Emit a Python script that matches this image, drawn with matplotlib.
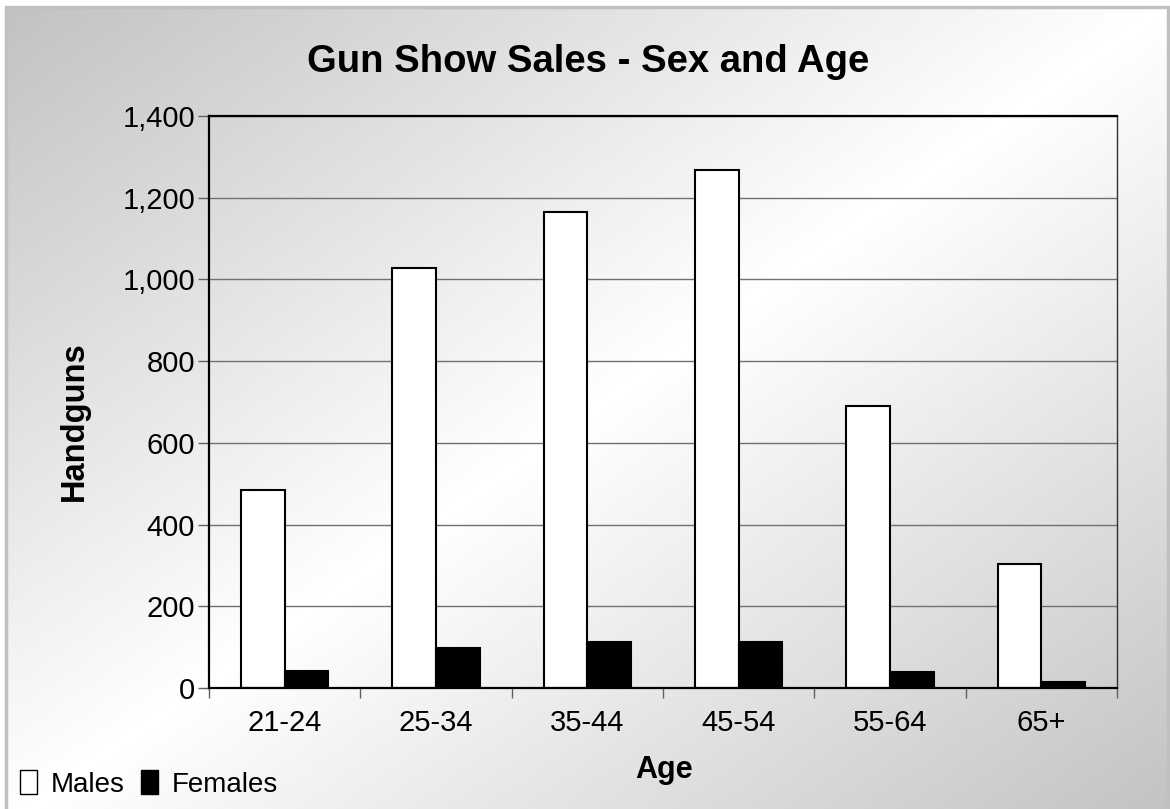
import numpy as np
import matplotlib
matplotlib.use('Agg')
import matplotlib.pyplot as plt
from matplotlib.patches import Rectangle, Patch
from matplotlib.ticker import FuncFormatter, FixedLocator, NullFormatter

# ---- data ----
categories = ['21-24', '25-34', '35-44', '45-54', '55-64', '65+']
males = [484, 1029, 1166, 1268, 690, 303]
females = [41, 99, 113, 113, 40, 15]
series_names = ['Males', 'Females']
y_ticks = [0, 200, 400, 600, 800, 1000, 1200, 1400]
title = 'Gun Show Sales - Sex and Age'
x_label = 'Age'
y_label = 'Handguns'

plt.rcParams['font.family'] = ['Liberation Sans', 'DejaVu Sans']

W, H = 1170, 809
fig = plt.figure(figsize=(W / 100, H / 100), dpi=100)
fig.patch.set_facecolor('white')

# ---- gradient background ----
bx0, bx1 = 6 / W, 1168 / W
by0, by1 = -0.02, 1 - 7 / H
bg = fig.add_axes([bx0, by0, bx1 - bx0, by1 - by0], zorder=0)
n = 400
gx, gy = np.meshgrid(np.linspace(0, 1, n), np.linspace(0, 1, n))
t = (gx + gy) / 2
val = 0.76 + 0.24 * (1 - np.abs(2 * t - 1))
bg.imshow(val, cmap='gray', vmin=0, vmax=1, extent=[0, 1, 0, 1],
          origin='upper', aspect='auto', interpolation='bilinear')
bg.axis('off')
fig.add_artist(Rectangle((bx0, by0), bx1 - bx0, by1 - by0, transform=fig.transFigure,
                         fill=False, edgecolor='#c0c0c0', lw=2.5, zorder=0.5))

# ---- main axes ----
ax = fig.add_axes([209 / W, 1 - 688 / H, (1117 - 209) / W, (688 - 116) / H], zorder=1)
ax.set_facecolor('none')

x = np.arange(len(categories))
w = 0.2875
ax.bar(x - w / 2, males, w, color='white', edgecolor='black', lw=1.5, zorder=3,
       label=series_names[0])
ax.bar(x + w / 2, females, w, color='black', edgecolor='black', lw=1.5, zorder=3,
       label=series_names[1])

ax.set_xlim(-0.5, len(categories) - 0.5)
ax.set_ylim(0, 1400)
ax.set_yticks(y_ticks)
ax.yaxis.set_major_formatter(FuncFormatter(lambda v, p: f'{int(v):,}'))

ax.xaxis.set_major_locator(FixedLocator(np.arange(-0.5, len(categories), 1)))
ax.xaxis.set_major_formatter(NullFormatter())
ax.set_xticks(x, minor=True)
ax.set_xticklabels(categories, minor=True)
ax.tick_params(axis='x', which='major', length=7, width=1, color='#606060', direction='out')
ax.tick_params(axis='x', which='minor', length=0, pad=15, labelsize=21)
ax.tick_params(axis='y', length=8, width=1, color='#606060', pad=2, labelsize=21)

ax.yaxis.grid(True, color='#707070', lw=1.0)
ax.set_axisbelow(True)

for side in ['left', 'bottom', 'top']:
    ax.spines[side].set_linewidth(1.6)
    ax.spines[side].set_color('black')
    ax.spines[side].set_zorder(4)
ax.spines['right'].set_linewidth(1.0)
ax.spines['right'].set_color('#303030')

# ---- texts ----
fig.text(588 / W, 1 - 72 / H, title, ha='center', va='baseline',
         fontsize=27.5, fontweight='bold')
fig.text(74 / W, 1 - 421 / H, y_label, rotation=90, ha='center', va='center',
         fontsize=23.5, fontweight='bold')
fig.text(664 / W, 1 - 778 / H, x_label, ha='center', va='baseline',
         fontsize=22, fontweight='bold')

handles = [Patch(facecolor='white', edgecolor='black', lw=1),
           Patch(facecolor='black', edgecolor='black', lw=1)]
fig.legend(handles, series_names, loc='center left',
           bbox_to_anchor=(20 / W, 1 - 784 / H), ncol=2, frameon=False,
           fontsize=20, handlelength=0.6, handleheight=0.9, handletextpad=0.5,
           columnspacing=0.6, borderpad=0, borderaxespad=0)

fig.savefig('out.png', dpi=100, facecolor=fig.get_facecolor())
